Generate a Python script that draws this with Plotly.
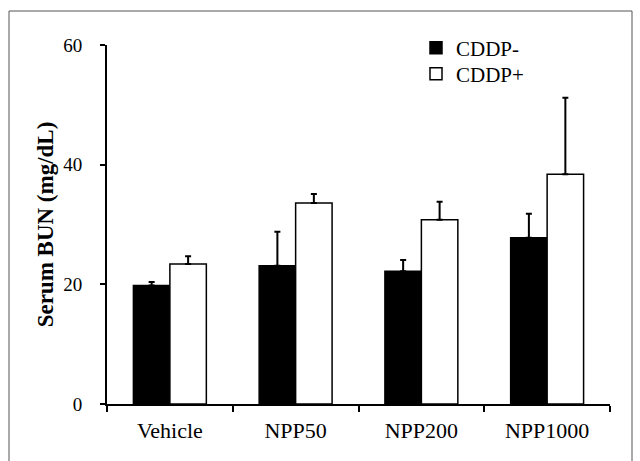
import plotly.graph_objects as go

categories = ["Vehicle", "NPP50", "NPP200", "NPP1000"]
cddp_minus = [19.8, 23.1, 22.2, 27.8]
cddp_minus_err = [0.6, 5.7, 1.85, 4.0]
cddp_plus = [23.4, 33.6, 30.8, 38.4]
cddp_plus_err = [1.3, 1.5, 3.0, 12.8]
y_ticks = [0, 20, 40, 60]

FONT = "Liberation Serif"

fig = go.Figure()
fig.add_trace(go.Bar(
    name="CDDP-", x=categories, y=cddp_minus, legend="legend",
    marker=dict(color="#000000", line=dict(color="#000000", width=1.5)),
    error_y=dict(type="data", array=cddp_minus_err, arrayminus=[0]*4, symmetric=False,
                 color="#000000", thickness=2, width=3),
))
fig.add_trace(go.Bar(
    name="CDDP+", x=categories, y=cddp_plus, legend="legend2",
    marker=dict(color="#ffffff", line=dict(color="#000000", width=1.5)),
    error_y=dict(type="data", array=cddp_plus_err, arrayminus=[0]*4, symmetric=False,
                 color="#000000", thickness=2, width=3),
))

L, R, T, B = 107, 30, 45, 57
W, H = 640, 461
pw, ph = W - L - R, H - T - B

def px_x(p):
    return (p - L) / pw

def px_y(p):
    return (H - B - p) / ph

leg_common = dict(xanchor="left", yanchor="middle",
                  font=dict(family=FONT, size=21, color="#000000"),
                  bgcolor="rgba(0,0,0,0)", borderwidth=0)

fig.update_layout(
    width=W, height=H,
    margin=dict(l=L, r=R, t=T, b=B, pad=0),
    paper_bgcolor="#ffffff", plot_bgcolor="#ffffff",
    font=dict(family=FONT, color="#000000", size=18),
    barmode="group", bargap=0.42, bargroupgap=0,
    showlegend=True,
    legend=dict(x=px_x(416), y=px_y(48), **leg_common),
    legend2=dict(x=px_x(416), y=px_y(74), **leg_common),
    xaxis=dict(showline=True, linecolor="#000000", linewidth=2,
               ticks="outside", tickson="boundaries", ticklen=6, tickwidth=2, tickcolor="#000000",
               tickfont=dict(family=FONT, size=22), showgrid=False, zeroline=False,
               ticklabelstandoff=6),
    yaxis=dict(range=[0, 60], tickvals=y_ticks, showline=True, linecolor="#000000", linewidth=2,
               ticks="outside", ticklen=5, tickwidth=2, tickcolor="#000000",
               tickfont=dict(family=FONT, size=19), showgrid=False, zeroline=False,
               ticklabelstandoff=14,
               title=dict(text="<b>Serum BUN (mg/dL)</b>", font=dict(family=FONT, size=23), standoff=3)),
    shapes=[dict(type="rect", xref="paper", yref="paper",
                 x0=px_x(9), x1=px_x(632), y0=px_y(475), y1=px_y(11),
                 line=dict(color="#555555", width=1), fillcolor="rgba(0,0,0,0)", layer="below")],
)

fig.write_html("out.html")
